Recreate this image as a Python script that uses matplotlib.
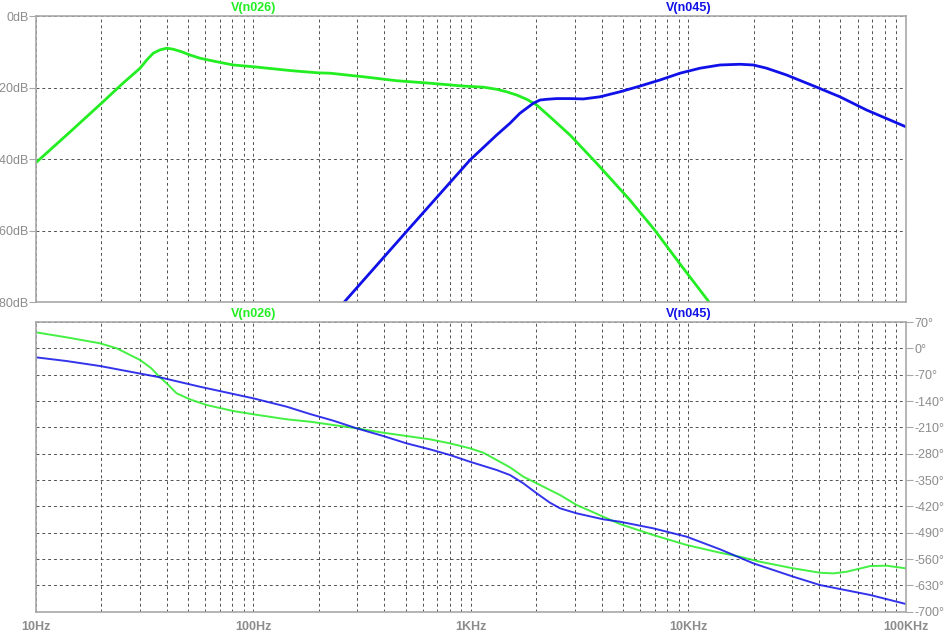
import numpy as np
import matplotlib
matplotlib.use("Agg")
import matplotlib.pyplot as plt
from matplotlib.ticker import FixedLocator, NullFormatter

plt.rcParams['font.family'] = ['Liberation Sans', 'DejaVu Sans']

# V(n026) magnitude (dB) vs frequency (Hz)
f_mag_026 = [10, 14, 20, 25, 30.1, 32.3, 34.6, 37.1, 39.9, 42.8, 46.7, 51, 56.7, 65.3, 80.7,
             100, 150, 198, 225, 320, 455, 648, 922, 1140, 1312, 1459, 1622, 1803, 2005, 2308,
             2853, 3784, 5383, 7000, 9100, 12400, 13000]
mag_026 = [-41, -33, -24.4, -18.9, -14.6, -12.3, -10.4, -9.5, -9.0, -9.3, -10.0, -10.9, -11.8,
           -12.6, -13.7, -14.2, -15.3, -15.9, -16.0, -17.0, -18.1, -18.8, -19.6, -19.9, -20.5,
           -21.2, -22.1, -23.3, -24.9, -28.2, -33.3, -41.2, -51.5, -59.9, -69.2, -79.9, -82]

# V(n045) magnitude (dB)
f_mag_045 = [240, 258, 505, 989, 1312, 1511, 1679, 1803, 1935, 2076, 2228, 2478, 2853, 3285,
             3917, 4842, 5984, 7396, 9141, 11297, 13962, 17256, 19860, 22860, 28250, 38830,
             49700, 65900, 100000]
mag_045 = [-83, -80.4, -60.3, -40.3, -33.3, -30.0, -27.2, -25.8, -24.4, -23.5, -23.3, -23.1,
           -23.1, -23.2, -22.6, -21.2, -19.6, -17.9, -16.0, -14.6, -13.7, -13.5, -13.7, -14.6,
           -16.5, -19.9, -22.6, -26.3, -31]

# V(n026) phase (deg)
f_ph_026 = [10, 13.8, 19.7, 23.5, 27.1, 30.1, 33.9, 37.1, 39.9, 44.3, 51, 60.8, 80.7, 100,
            142, 182, 233, 298, 395, 505, 648, 800, 989, 1140, 1312, 1511, 1741, 2005, 2308,
            2567, 3060, 4058, 4842, 6888, 9814, 13962, 17256, 21330, 30340, 40200, 46380,
            53370, 68630, 81440, 100000]
ph_026 = [42.6, 29.3, 13.4, 0.1, -17.7, -31, -53, -77, -93, -119.5, -135.5, -150.6, -166.6,
          -175.4, -188.6, -195, -203.8, -212.6, -224.2, -233, -241.8, -252.5, -265.7, -277.4,
          -296.8, -316.3, -341.2, -358.8, -376.6, -389.9, -416.4, -447.5, -467, -496.2,
          -522.8, -543.2, -553.9, -567.2, -584.8, -596.4, -598.2, -593.8, -578.6, -577.7,
          -584.8]

# V(n045) phase (deg)
f_ph_045 = [10, 13.8, 19.7, 37.1, 56.7, 100, 142, 182, 233, 298, 395, 505, 648, 800, 989,
            1312, 1511, 1741, 2005, 2308, 2567, 3060, 4058, 4842, 6888, 9814, 13962, 19860,
            30340, 40200, 68630, 100000]
ph_045 = [-23.9, -33.7, -47, -77, -102, -133, -155, -174.6, -192.3, -212.6, -233, -252.5,
          -268.5, -283.5, -301.4, -323.4, -336.7, -358.8, -385.4, -410.3, -425.2, -438.5,
          -454.5, -460.8, -478.4, -500.7, -534.2, -571.4, -607, -629.1, -655.7, -679.6]

db_ticks = [0, -20, -40, -60, -80]
db_labels = ['0dB', '-20dB', '-40dB', '-60dB', '-80dB']
ph_ticks = list(range(70, -701, -70))
ph_labels = [f'{t}°' for t in ph_ticks]
f_ticks = [10, 100, 1000, 10000, 100000]
f_labels = ['10Hz', '100Hz', '1KHz', '10KHz', '100KHz']

green = '#22ee22'
blue = '#1010e8'
grey_txt = '#8c8c8c'
spine_c = '#a8a8a8'
grid_c = '#505050'

fig = plt.figure(figsize=(9.45, 6.35), dpi=100)
ax1 = fig.add_axes([0.0381, 0.5244, 0.9206, 0.4504])
ax2 = fig.add_axes([0.0381, 0.0367, 0.9206, 0.4562])

minor = [m * 10 ** e for e in range(1, 5) for m in range(2, 10)]

for ax in (ax1, ax2):
    ax.set_xscale('log')
    ax.set_xlim(10, 100000)
    ax.xaxis.set_major_locator(FixedLocator(f_ticks))
    ax.xaxis.set_minor_locator(FixedLocator(minor))
    ax.xaxis.set_minor_formatter(NullFormatter())
    ax.tick_params(axis='x', which='both', length=0)
    ax.grid(True, which='both', axis='x', color=grid_c, ls=(0, (3, 3)), lw=0.7)
    ax.grid(True, which='major', axis='y', color=grid_c, ls=(0, (3, 3)), lw=0.7)
    for s in ax.spines.values():
        s.set_color(spine_c)
        s.set_linewidth(1.2)

# magnitude pane
ax1.plot(f_mag_026, mag_026, color=green, lw=2.0)
ax1.plot(f_mag_045, mag_045, color=blue, lw=2.0)
ax1.set_ylim(-80, 0)
ax1.set_yticks(db_ticks)
ax1.set_yticklabels(db_labels)
ax1.set_xticklabels([])
ax1.tick_params(axis='y', length=5, color=spine_c, labelcolor=grey_txt, labelsize=9, pad=0)

# phase pane
ax2.plot(f_ph_026, ph_026, color=green, lw=1.4, alpha=0.85)
ax2.plot(f_ph_045, ph_045, color=blue, lw=1.4, alpha=0.85)
ax2.set_ylim(-700, 70)
ax2.yaxis.tick_right()
ax2.set_yticks(ph_ticks)
ax2.set_yticklabels(ph_labels)
ax2.set_xticklabels(f_labels)
ax2.tick_params(axis='y', length=5, color=spine_c, labelcolor=grey_txt, labelsize=9, pad=1)
ax2.tick_params(axis='x', labelcolor=grey_txt, labelsize=9, pad=7)
for lab in ax2.get_xticklabels():
    lab.set_fontweight('bold')

# trace names above each pane
for ax in (ax1, ax2):
    tr = ax.get_xaxis_transform()
    ax.text(100, 1.008, 'V(n026)', transform=tr, color=green, fontsize=9,
            fontweight='bold', ha='center', va='bottom')
    ax.text(10000, 1.008, 'V(n045)', transform=tr, color=blue, fontsize=9,
            fontweight='bold', ha='center', va='bottom')

fig.savefig('out.png', dpi=100, facecolor='white')
